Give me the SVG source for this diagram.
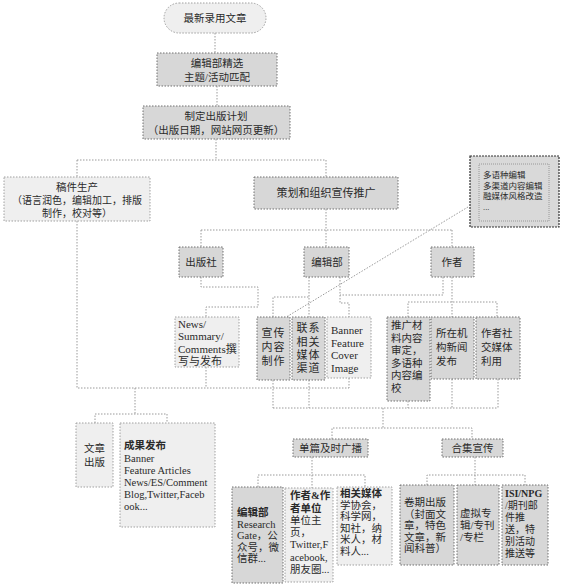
<svg xmlns="http://www.w3.org/2000/svg" width="561" height="587" viewBox="0 0 561 587">
<style>
.dk{fill:#d7d7d7;stroke:#707070;stroke-width:1;stroke-dasharray:1.5 1.5}
.lt{fill:#efefef;stroke:#a0a0a0;stroke-width:1;stroke-dasharray:1.5 1.5}
.c{fill:none;stroke:#9a9a9a;stroke-width:1;stroke-dasharray:1.5 1.5}
text{font-family:"Liberation Serif","Noto Sans CJK SC",serif;font-size:10.5px;fill:#2a2a2a}
.m{text-anchor:middle}
.b{font-weight:bold}
.s{font-size:8.5px}
.t{font-size:10px}
</style>
<rect width="561" height="587" fill="#ffffff"/>
<g id="connectors">
<path class="c" d="M215 33V53M217 86V106M216 139V160M77 160H326M77 160V177M326 160V177M326 209V247M201 230H452M201 230V247M452 230V247"/>
<path class="c" d="M201 277V287H258V307H206V317"/>
<path class="c" d="M273 317V297H309V317M309 277V297"/>
<path class="c" d="M340 277V303H349V317M443 277V295H340"/>
<path class="c" d="M452 277V317M408 317V302H497V317"/>
<path class="c" d="M468 207L283 319"/>
<path class="c" d="M77 221V388H349M206 367V388M349 378V388M135 388V414M95 423V414H167V423"/>
<path class="c" d="M273 380V408M309 380V408M408 401V408M452 379V408M498 379V408M273 408H498M383 408V428M332 439V428H472V439"/>
<path class="c" d="M312 457V488M258 487V475H365V487M475 457V485M427 485V475H525V485"/>
</g>
<g id="n1"><rect class="lt" x="164" y="3" width="102" height="30" rx="15"/><text class="m" x="215" y="22">最新录用文章</text></g>
<g id="n2"><rect class="dk" x="157" y="53" width="120" height="33"/><text class="m" x="217" y="67">编辑部精选</text><text class="m" x="217" y="81">主题/活动匹配</text></g>
<g id="n3"><rect class="dk" x="143" y="106" width="147" height="33"/><text class="m" x="216" y="120">制定出版计划</text><text class="m" x="216" y="134">（出版日期，网站网页更新）</text></g>
<g id="n4"><rect class="lt" x="4" y="177" width="146" height="44"/><text class="m" x="77" y="191">稿件生产</text><text class="m t" x="77" y="204">（语言润色，编辑加工，排版</text><text class="m t" x="77" y="217">制作，校对等）</text></g>
<g id="n5"><rect class="dk" x="254" y="177" width="144" height="32"/><text class="m" x="326" y="197" style="font-size:11px">策划和组织宣传推广</text></g>
<g id="n6"><rect x="470" y="156" width="89" height="71" fill="#d9d9d9" stroke="#333" stroke-width="1.2" stroke-dasharray="2 1"/><rect x="479" y="164" width="70" height="57" fill="none" stroke="#888" stroke-width="0.8" stroke-dasharray="1 1"/><text class="s" x="483" y="178">多语种编辑</text><text class="s" x="483" y="188.5">多渠道内容编辑</text><text class="s" x="483" y="199">融媒体风格改造</text><text class="s" x="483" y="210">...</text></g>
<g id="n7"><rect class="dk" x="179" y="247" width="44" height="30"/><text class="m" x="201" y="266">出版社</text></g>
<g id="n8"><rect class="dk" x="304" y="247" width="45" height="30"/><text class="m" x="327" y="266">编辑部</text></g>
<g id="n9"><rect class="dk" x="431" y="247" width="43" height="30"/><text class="m" x="452" y="266">作者</text></g>
<g id="n10"><rect class="lt" x="175" y="317" width="64" height="50"/><text x="178" y="328" style="font-size:11px">News/</text><text x="178" y="340" style="font-size:11px">Summary/</text><text x="178" y="352.5" style="font-size:11px">Comments撰</text><text x="178" y="365" style="font-size:11px">写与发布</text></g>
<g id="n11"><rect class="dk" x="257" y="317" width="33" height="63"/><text class="m" x="273.5" y="337" style="font-size:11px;letter-spacing:1px">宣传</text><text class="m" x="273.5" y="351" style="font-size:11px;letter-spacing:1px">内容</text><text class="m" x="273.5" y="364.5" style="font-size:11px;letter-spacing:1px">制作</text></g>
<g id="n12"><rect class="dk" x="292" y="317" width="33" height="63"/><text class="m" x="308.5" y="332" style="font-size:11px;letter-spacing:1px">联系</text><text class="m" x="308.5" y="346" style="font-size:11px;letter-spacing:1px">相关</text><text class="m" x="308.5" y="359" style="font-size:11px;letter-spacing:1px">媒体</text><text class="m" x="308.5" y="372" style="font-size:11px;letter-spacing:1px">渠道</text></g>
<g id="n13"><rect class="lt" x="327" y="317" width="44" height="61"/><text x="331" y="334" style="font-size:11px">Banner</text><text x="331" y="346.5" style="font-size:11px">Feature</text><text x="331" y="359" style="font-size:11px">Cover</text><text x="331" y="371.5" style="font-size:11px">Image</text></g>
<g id="n14"><rect class="dk" x="387" y="317" width="43" height="84"/><text x="391" y="329">推广材</text><text x="391" y="341.5">料内容</text><text x="391" y="354">审定，</text><text x="391" y="366.5">多语种</text><text x="391" y="379">内容编</text><text x="391" y="391.5">校</text></g>
<g id="n15"><rect class="dk" x="431" y="317" width="43" height="62"/><text x="436" y="337">所在机</text><text x="436" y="351">构新闻</text><text x="436" y="364.5">发布</text></g>
<g id="n16"><rect class="dk" x="476" y="317" width="44" height="62"/><text x="481" y="337">作者社</text><text x="481" y="351">交媒体</text><text x="481" y="364.5">利用</text></g>
<g id="n17"><rect class="lt" x="76" y="423" width="37" height="64"/><text class="m" x="94.5" y="452">文章</text><text class="m" x="94.5" y="466">出版</text></g>
<g id="n18"><rect class="lt" x="120" y="423" width="95" height="104"/><text class="b" x="124" y="449">成果发布</text><text x="124" y="462">Banner</text><text x="124" y="474">Feature Articles</text><text x="124" y="486">News/ES/Comment</text><text x="124" y="498">Blog,Twitter,Faceb</text><text x="124" y="510">ook...</text></g>
<g id="n19"><rect class="dk" x="293" y="439" width="75" height="18"/><text class="m" x="330.5" y="452">单篇及时广播</text></g>
<g id="n20"><rect class="dk" x="442" y="439" width="61" height="18"/><text class="m" x="472.5" y="452">合集宣传</text></g>
<g id="n21"><rect class="dk" x="232" y="487" width="51" height="96"/><text class="b" x="237" y="516">编辑部</text><text x="237" y="527.5">Research</text><text x="237" y="539">Gate，公</text><text x="237" y="550.5">众号，微</text><text x="237" y="562">信群...</text></g>
<g id="n22"><rect class="lt" x="285" y="488" width="48" height="94"/><text class="b" x="290" y="499">作者&amp;作</text><text class="b" x="290" y="511.5">者单位</text><text x="290" y="524">单位主</text><text x="290" y="536">页，</text><text x="290" y="548">Twitter,F</text><text x="290" y="560.5">acebook,</text><text x="290" y="572.5">朋友圈...</text></g>
<g id="n23"><rect class="lt" x="337" y="487" width="55" height="78"/><text class="b" x="340" y="497">相关媒体</text><text x="340" y="508.5">学协会，</text><text x="340" y="520">科学网，</text><text x="340" y="531.5">知社，纳</text><text x="340" y="543">米人，材</text><text x="340" y="554.5">料人...</text></g>
<g id="n24"><rect class="dk" x="400" y="485" width="54" height="80"/><text x="404" y="506">卷期出版</text><text x="404" y="517.5">（封面文</text><text x="404" y="529">章，特色</text><text x="404" y="540.5">文章，新</text><text x="404" y="552">闻科普）</text></g>
<g id="n25"><rect class="dk" x="457" y="485" width="42" height="80"/><text x="460" y="517">虚拟专</text><text x="460" y="529">辑/专刊</text><text x="460" y="541">/专栏</text></g>
<g id="n26"><rect class="dk" x="502" y="485" width="46" height="80"/><text class="b t" x="505" y="497">ISI/NPG</text><text class="t" x="505" y="509">/期刊邮</text><text class="t" x="505" y="521">件推</text><text class="t" x="505" y="533">送，特</text><text class="t" x="505" y="545">别活动</text><text class="t" x="505" y="557">推送等</text></g>
</svg>
